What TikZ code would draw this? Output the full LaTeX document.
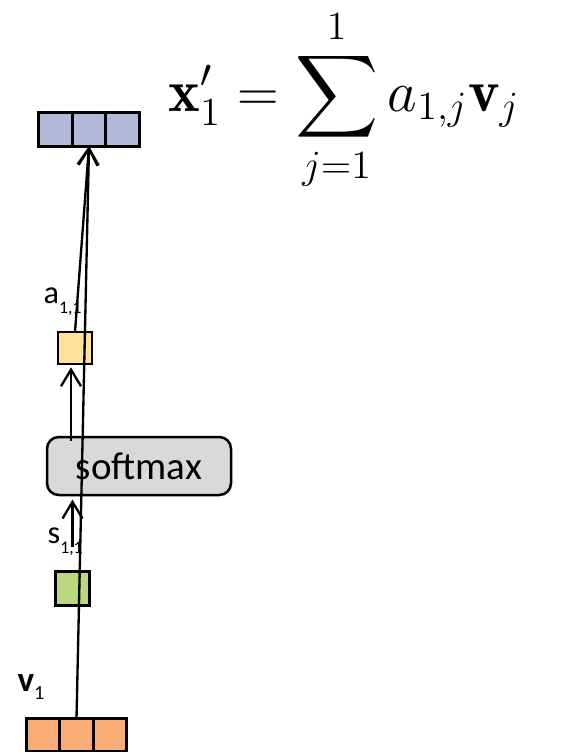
\documentclass[tikz,border=0pt]{standalone}
\usepackage{fontspec}
\setsansfont{Carlito}
\usepackage{amsmath}
\usetikzlibrary{arrows.meta}
\definecolor{outblue}{HTML}{B1BAD9}
\definecolor{attyellow}{HTML}{FFE29B}
\definecolor{scoregreen}{HTML}{BBD780}
\definecolor{valorange}{HTML}{F9AD76}
\definecolor{softgray}{HTML}{D9D9D9}
\newcommand{\subidx}[1]{\raisebox{-3pt}{\fontsize{5.3}{6}\selectfont #1}}

\begin{document}
\begin{tikzpicture}[x=0.3pt, y=-0.3pt, >={Straight Barb[length=5pt,width=6pt]}]
  \tikzset{cell/.style={draw, line width=0.85pt, minimum width=10.05pt, minimum height=10pt, inner sep=0, outer sep=0},
           conn/.style={line width=0.7pt},
           lbl/.style={anchor=base west, inner sep=0, font=\sffamily\fontsize{9.7}{11}\selectfont}}
  \useasboundingbox (0,0) rectangle (565,752);
  % output vector and formula
  \foreach \i/\x in {1/55.5,2/89,3/122.5} \node[cell, fill=outblue] (out\i) at (\x,129.5) {};
  \node[anchor=west, inner sep=0, font=\fontsize{18}{21}\selectfont] (sum) at (168,100)
    {$\displaystyle \mathbf{x}'_1 = \sum_{j=1}^{1} a_{1,j}\mathbf{v}_j$};
  % attention weight
  \node[cell, fill=attyellow, minimum width=10.2pt, minimum height=9.6pt] (att) at (75,348) {};
  \node[lbl] (attl) at (43,303) {a\subidx{1,1}};
  % softmax
  \node[draw, line width=0.75pt, rounded corners=3.5pt, fill=softgray, minimum width=55.2pt, minimum height=17.4pt,
        font=\sffamily\fontsize{11.7}{14}\selectfont] (soft) at (139,466) {softmax};
  % score
  \node[cell, fill=scoregreen, minimum width=10.2pt] (score) at (72.5,588.5) {};
  \node[lbl] (scorel) at (47,543) {s\subidx{1,1}};
  % value vector
  \foreach \i/\x in {1/43,2/76.5,3/110} \node[cell, fill=valorange] (val\i) at (\x,735) {};
  \node[lbl, font=\sffamily\bfseries\fontsize{10.5}{12}\selectfont] (vall) at (17,691) {v\raisebox{-2.5pt}{\mdseries\fontsize{6}{7}\selectfont 1}};
  % connectors
  \draw[conn, ->, shorten <=7.5pt, shorten >=1pt] (score.north) -- (score.north |- soft.south);
  \draw[conn, ->, shorten <=-1.5pt, shorten >=1pt] ([xshift=-1.2pt]att.south |- soft.north) -- ([xshift=-1.2pt]att.south);
  \draw[conn, ->] (att.north) -- (out2.south);
  \draw[conn, ->] (val2.north) -- (out2.south);
\end{tikzpicture}
\end{document}
